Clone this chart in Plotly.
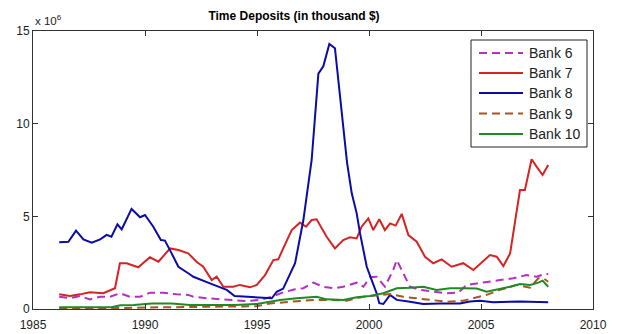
import plotly.graph_objects as go

# Time deposits for five banks, values in millions of thousand dollars (x 10^6)
bank6_year = [1986.17, 1986.65, 1987.1, 1987.54, 1988.0, 1988.44, 1988.88, 1989.33, 1989.78,
              1990.22, 1990.82, 1991.41, 1991.93, 1992.16, 1992.75, 1993.35, 1994.0, 1994.54,
              1995.13, 1995.66, 1996.17, 1996.7, 1997.07, 1997.51, 1997.96, 1998.4, 1998.85,
              1999.45, 1999.75, 2000.04, 2000.34, 2000.71, 2001.08, 2001.24, 2001.46, 2001.83,
              2002.28, 2002.87, 2003.47, 2003.99, 2004.36, 2004.81, 2005.25, 2005.85, 2006.44,
              2007.04, 2007.48, 2007.86, 2008.0]
bank6_value = [0.66, 0.58, 0.70, 0.52, 0.66, 0.66, 0.85, 0.66, 0.66,
               0.88, 0.88, 0.79, 0.76, 0.66, 0.58, 0.52, 0.49, 0.43,
               0.49, 0.66, 0.90, 1.06, 1.12, 1.42, 1.20, 1.12, 1.20,
               1.42, 1.20, 1.71, 1.74, 1.20, 2.10, 2.64, 2.10, 1.20,
               1.03, 0.93, 0.85, 0.88, 1.30, 1.38, 1.47, 1.56, 1.66,
               1.83, 1.74, 1.89, 1.89]

bank7_year = [1986.17, 1986.65, 1987.1, 1987.54, 1988.14, 1988.66, 1988.88, 1989.18, 1989.7,
              1990.22, 1990.6, 1991.12, 1991.49, 1991.93, 1992.3, 1992.6, 1992.98, 1993.2,
              1993.5, 1993.94, 1994.24, 1994.69, 1994.99, 1995.36, 1995.73, 1995.95, 1996.17,
              1996.55, 1996.92, 1997.19, 1997.44, 1997.66, 1998.11, 1998.48, 1998.85, 1999.15,
              1999.45, 1999.67, 1999.97, 2000.19, 2000.46, 2000.71, 2000.94, 2001.19, 2001.46,
              2001.76, 2002.13, 2002.5, 2002.87, 2003.24, 2003.69, 2004.21, 2004.66, 2005.4,
              2005.7, 2006.0, 2006.3, 2006.52, 2006.74, 2006.96, 2007.26, 2007.48, 2007.75, 2008.0]
bank7_value = [0.79, 0.70, 0.79, 0.90, 0.85, 1.12, 2.47, 2.47, 2.25,
               2.79, 2.55, 3.27, 3.18, 3.00, 2.55, 2.28, 1.56, 1.74,
               1.20, 1.20, 1.30, 1.17, 1.30, 1.83, 2.64, 2.68, 3.27,
               4.26, 4.66, 4.44, 4.80, 4.84, 3.90, 3.27, 3.72, 3.87,
               3.81, 4.44, 4.89, 4.26, 4.84, 4.26, 4.62, 4.50, 5.13,
               3.99, 3.63, 2.82, 2.47, 2.68, 2.28, 2.47, 2.10, 2.91,
               2.82, 2.32, 3.00, 4.80, 6.42, 6.42, 8.08, 7.68, 7.23, 7.77]

bank8_year = [1986.17, 1986.58, 1986.92, 1987.25, 1987.62, 1988.0, 1988.29, 1988.5, 1988.77,
              1988.96, 1989.4, 1989.78, 1990.0, 1990.37, 1990.71, 1990.89, 1991.19, 1991.49,
              1991.93, 1992.16, 1992.9, 1993.65, 1994.0, 1994.99, 1995.66, 1995.88, 1996.17,
              1996.7, 1997.07, 1997.44, 1997.74, 1997.96, 1998.23, 1998.48, 1998.7, 1999.02,
              1999.23, 1999.45, 1999.6, 1999.9, 2000.12, 2000.34, 2000.46, 2000.64, 2000.94,
              2001.24, 2001.83, 2002.42, 2003.17, 2004.06, 2004.5, 2004.96, 2005.55, 2006.74, 2008.0]
bank8_value = [3.60, 3.63, 4.23, 3.76, 3.58, 3.76, 4.00, 3.90, 4.57,
               4.30, 5.40, 4.95, 5.07, 4.44, 3.72, 3.69, 3.00, 2.28,
               1.93, 1.74, 1.38, 1.03, 0.70, 0.63, 0.58, 0.93, 1.10,
               2.47, 4.80, 8.04, 12.70, 13.10, 14.30, 14.07, 11.60, 7.90,
               6.24, 5.16, 4.08, 2.28, 1.56, 0.85, 0.31, 0.27, 0.76,
               0.49, 0.39, 0.27, 0.30, 0.30, 0.40, 0.45, 0.36, 0.41, 0.36]

bank9_year = [1986.17, 1988.0, 1989.0, 1990.0, 1991.0, 1992.0, 1993.0, 1994.0, 1994.99,
              1995.58, 1996.47, 1997.51, 1998.26, 1999.0, 1999.75, 2000.94, 2001.53, 2002.13,
              2002.72, 2003.47, 2004.21, 2004.66, 2005.25, 2005.85, 2006.59, 2007.19, 2007.56,
              2007.78, 2008.0]
bank9_value = [0.03, 0.03, 0.05, 0.08, 0.10, 0.10, 0.10, 0.12, 0.15,
               0.30, 0.39, 0.49, 0.49, 0.45, 0.66, 0.81, 0.66, 0.58,
               0.49, 0.39, 0.45, 0.58, 0.76, 1.03, 1.30, 1.15, 1.66,
               1.66, 1.47]

bank10_year = [1986.17, 1988.5, 1988.9, 1989.5, 1990.3, 1991.2, 1992.0, 1993.0, 1994.0,
               1994.99, 1995.58, 1996.03, 1996.77, 1997.66, 1998.11, 1998.85, 1999.45, 2000.04,
               2000.64, 2001.24, 2001.83, 2002.42, 2003.02, 2003.62, 2004.21, 2004.81, 2005.25,
               2005.7, 2006.3, 2006.74, 2007.19, 2007.56, 2007.75, 2008.0]
bank10_value = [0.09, 0.09, 0.20, 0.22, 0.30, 0.30, 0.22, 0.22, 0.22,
                0.27, 0.39, 0.49, 0.58, 0.66, 0.52, 0.49, 0.63, 0.70,
                0.85, 1.12, 1.15, 1.20, 1.03, 1.12, 1.12, 1.10, 0.93,
                1.03, 1.20, 1.35, 1.30, 1.42, 1.53, 1.20]

x_ticks = [1985, 1990, 1995, 2000, 2005, 2010]
y_ticks = [0, 5, 10, 15]

series = [
    ("Bank 6", bank6_year, bank6_value, "#b52fc0", "8px,5px"),
    ("Bank 7", bank7_year, bank7_value, "#d42424", "solid"),
    ("Bank 8", bank8_year, bank8_value, "#0b0ba8", "solid"),
    ("Bank 9", bank9_year, bank9_value, "#a8561e", "8px,5px"),
    ("Bank 10", bank10_year, bank10_value, "#1f8a25", "solid"),
]

W, H = 624, 334
M_L, M_R, M_T, M_B = 33, 31, 31, 25
PLOT_W, PLOT_H = W - M_L - M_R, H - M_T - M_B


def px_x(px):
    """Figure pixel column -> paper x."""
    return (px - M_L) / PLOT_W


def px_y(py):
    """Figure pixel row -> paper y."""
    return (H - M_B - py) / PLOT_H


fig = go.Figure()
for name, xs, ys, color, dash in series:
    fig.add_trace(go.Scatter(
        x=xs, y=ys, mode="lines", name=name, showlegend=False,
        line=dict(color=color, width=2, dash=dash),
    ))

font_family = "Arial, Liberation Sans, sans-serif"
axis_style = dict(
    showline=True, linecolor="#333333", linewidth=1, mirror="ticks",
    ticks="inside", ticklen=5, tickcolor="#333333", showgrid=False, zeroline=False,
    automargin=False,
    tickfont=dict(family=font_family, size=12, color="#222222"),
)

# Boxed legend in the upper right corner of the axes
shapes = [dict(type="rect", xref="paper", yref="paper", layer="above",
               x0=px_x(471), x1=px_x(587), y0=px_y(147), y1=px_y(40),
               fillcolor="white", line=dict(color="#222222", width=1))]
annotations = []
row_rows = [53, 73, 93, 113.5, 134]
for (name, _, _, color, dash), row in zip(series, row_rows):
    shapes.append(dict(type="line", xref="paper", yref="paper", layer="above",
                       x0=px_x(479), x1=px_x(523), y0=px_y(row), y1=px_y(row),
                       line=dict(color=color, width=2, dash=dash)))
    annotations.append(dict(text=name, xref="paper", yref="paper",
                            x=px_x(527), y=px_y(row), xanchor="left", yanchor="middle",
                            showarrow=False,
                            font=dict(family=font_family, size=14, color="#222222")))

# Exponent of the y axis scale
annotations.append(dict(text="x 10<sup>6</sup>", xref="paper", yref="paper",
                        x=0, y=1, xanchor="left", yanchor="bottom", yshift=2, showarrow=False,
                        font=dict(family=font_family, size=11.5, color="#222222")))

fig.update_layout(
    width=W, height=H,
    margin=dict(l=M_L, r=M_R, t=M_T, b=M_B),
    paper_bgcolor="white", plot_bgcolor="white",
    title=dict(text="<b>Time Deposits (in thousand $)</b>", x=294 / W, xanchor="center",
               xref="container", y=1 - 16 / H, yref="container", yanchor="middle",
               font=dict(family=font_family, size=12, color="black")),
    xaxis=dict(range=[1985, 2010], tickvals=x_ticks, ticklabelstandoff=5, **axis_style),
    yaxis=dict(range=[0, 15], tickvals=y_ticks, **axis_style),
    showlegend=False,
    shapes=shapes,
    annotations=annotations,
)

fig.write_html("out.html")
